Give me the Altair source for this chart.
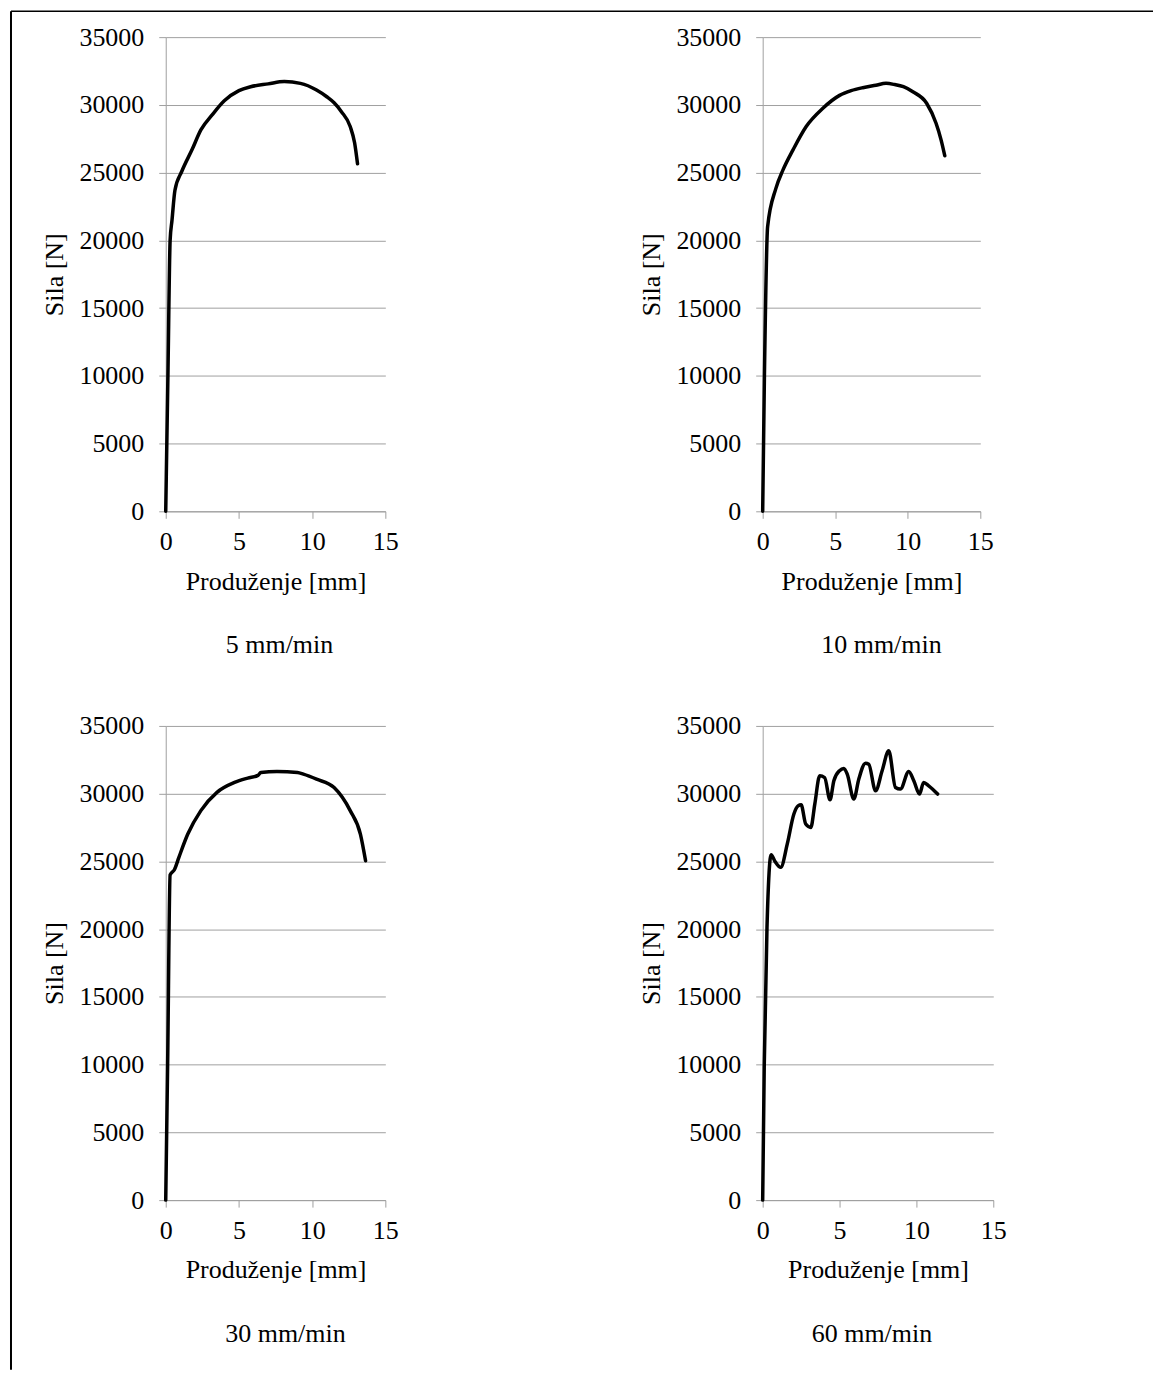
import altair as alt
import pandas as pd

FONT = "Liberation Serif"
GREY = "#a0a0a0"
FS = 26

# 5 mm/min
x5 = [0, 0.15, 0.3, 0.43, 0.63, 1.1, 1.8, 2.4, 3.2, 4.0, 5.0, 5.8, 7.0, 8.1, 9.2, 10.3, 11.0, 11.5, 12.0, 12.6, 12.9, 13.1]
f5 = [0, 10000, 20000, 21500, 23700, 25100, 26700, 28150, 29300, 30300, 31050, 31340, 31550, 31720, 31590, 31100, 30600, 30150, 29500, 28400, 27200, 25650]

# 10 mm/min
x10 = [0, 0.12, 0.34, 0.9, 1.4, 2.1, 3.0, 4.15, 5.3, 6.1, 6.9, 7.8, 8.5, 9.1, 9.7, 10.35, 11.3, 11.95, 12.3, 12.55]
f10 = [0, 10000, 21000, 23800, 25200, 26700, 28400, 29750, 30700, 31050, 31270, 31450, 31590, 31500, 31340, 30970, 30120, 28640, 27400, 26250]

# 30 mm/min
x30 = [0, 0.13, 0.3, 0.6, 0.9, 1.5, 2.4, 3.5, 4.7, 5.6, 6.3, 6.5, 7.6, 9.0, 9.4, 10.3, 11.5, 12.6, 13.3, 13.65]
f30 = [0, 10000, 24000, 24400, 25300, 27000, 28750, 30100, 30830, 31150, 31350, 31560, 31640, 31560, 31440, 31070, 30450, 28750, 27000, 25050]

# 60 mm/min
x60 = [0, 0.1, 0.28, 0.55, 0.8, 1.17, 1.6, 2.03, 2.3, 2.5, 2.8, 3.13, 3.39, 3.71, 4.03, 4.38, 4.63, 5.0, 5.28, 5.5, 5.93, 6.25, 6.69, 6.9, 7.34, 7.77, 8.2, 8.64, 8.96, 9.5, 9.83, 10.2, 10.47, 10.8, 11.38]
f60 = [0, 9800, 20100, 25500, 25000, 24560, 26290, 28500, 29100, 29180, 27760, 27510, 29230, 31320, 31190, 29550, 30950, 31700, 31860, 31440, 29600, 31070, 32250, 32180, 30210, 31690, 33160, 30460, 30340, 31640, 30950, 29970, 30830, 30580, 29970]

captions = ["5 mm/min", "10 mm/min", "30 mm/min", "60 mm/min"]
x_ticks = [0, 5, 10, 15]
y_ticks = [0, 5000, 10000, 15000, 20000, 25000, 30000, 35000]
x_title = "Produženje [mm]"
y_title = "Sila [N]"

H = 475


def panel(xs, fs, width, caption, dx, interp, border=False):
    df = pd.DataFrame({"x": xs, "F": fs})
    line = alt.Chart(df).mark_line(
        color="black", strokeWidth=3.5, interpolate=interp,
        strokeJoin="round", strokeCap="round"
    ).encode(
        x=alt.X("x:Q", scale=alt.Scale(domain=[0, 15], nice=False),
                axis=alt.Axis(values=x_ticks, title=x_title, grid=False)),
        y=alt.Y("F:Q", scale=alt.Scale(domain=[0, 35000], nice=False),
                axis=alt.Axis(values=y_ticks, title=y_title, grid=True, format="d")),
    )
    one = pd.DataFrame({"k": [0]})
    cap = alt.Chart(one).mark_text(
        text=caption, font=FONT, fontSize=FS, color="black",
        align="center", baseline="middle"
    ).encode(x=alt.value(width / 2 + dx), y=alt.value(H + 134))
    layers = [line, cap]
    if border:
        vrule = alt.Chart(one).mark_rule(color="black", strokeWidth=2).encode(
            x=alt.value(-155), y=alt.value(-26), y2=alt.value(1335))
        hrule = alt.Chart(one).mark_rule(color="black", strokeWidth=1.5).encode(
            x=alt.value(-155), x2=alt.value(989), y=alt.value(-26))
        layers += [vrule, hrule]
    return alt.layer(*layers).properties(width=width, height=H)


p1 = panel(x5, f5, 220, captions[0], 4, "monotone", border=True)
p2 = panel(x10, f10, 218, captions[1], 10, "monotone")
p3 = panel(x30, f30, 220, captions[2], 10, "monotone")
p4 = panel(x60, f60, 231, captions[3], -6, "monotone")

chart = alt.concat(
    p1, p2, p3, p4, columns=2,
    spacing={"row": 215, "column": 367}, bounds="flush", align="all"
).properties(
    padding={"left": 1, "top": 0, "right": 0, "bottom": 0}
).configure_view(
    stroke="transparent"
).configure_axis(
    labelFont=FONT, titleFont=FONT, labelFontSize=FS, titleFontSize=FS,
    labelColor="black", titleColor="black", titleFontWeight="normal",
    domainColor=GREY, tickColor=GREY, gridColor=GREY,
    tickSize=7, domainWidth=1, gridWidth=1, tickWidth=1,
    labelFlush=False, labelOverlap=False
).configure_axisY(
    labelPadding=15, titlePadding=11
).configure_axisX(
    labelPadding=10, titlePadding=14
)

chart.save("out.html", embed_options={"renderer": "svg", "actions": False})
